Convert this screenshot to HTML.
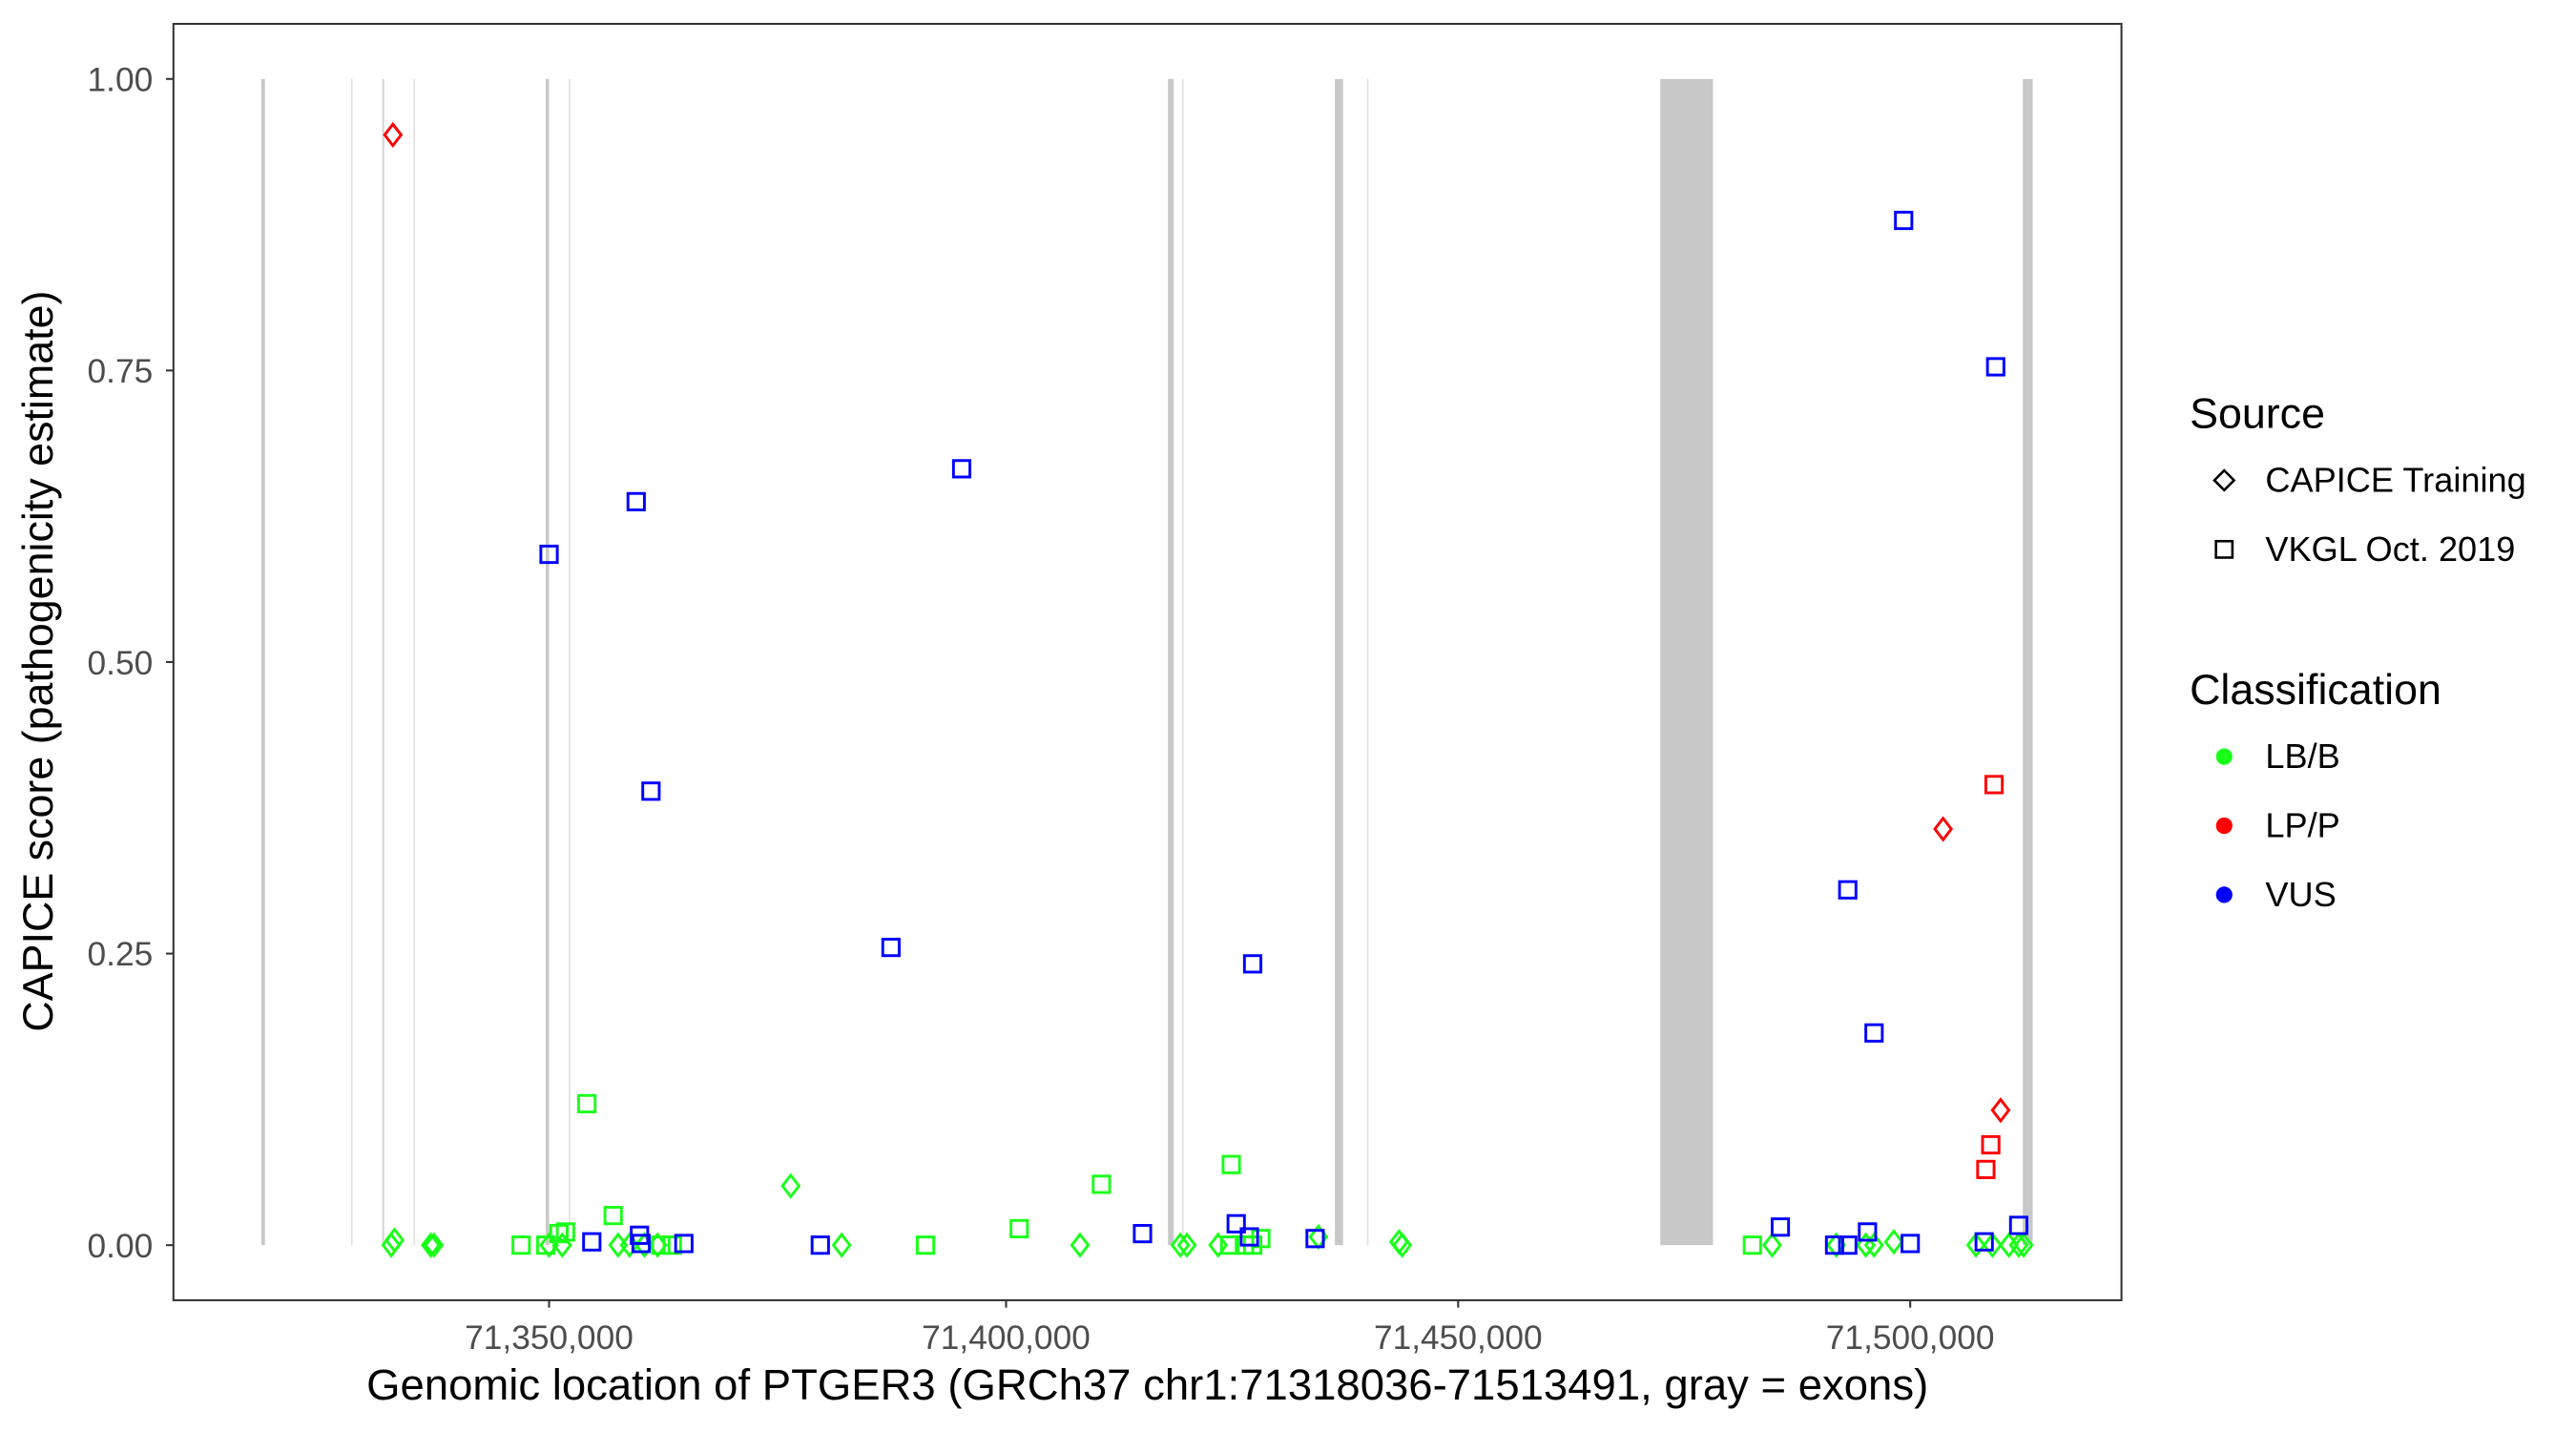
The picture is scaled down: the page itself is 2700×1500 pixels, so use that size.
<!DOCTYPE html>
<html><head><meta charset="utf-8"><style>html,body{margin:0;padding:0;background:#fff}svg{display:block}</style></head>
<body>
<svg width="2700" height="1500" viewBox="0 0 1567 870" preserveAspectRatio="none" xmlns="http://www.w3.org/2000/svg" font-family="Liberation Sans, Arial, sans-serif">
<rect x="0" y="0" width="1567" height="870" fill="#fff"/>
<g fill="#c8c8c8">
<rect x="159" y="48" width="2.2" height="709"/>
<rect x="213.5" y="48" width="1" height="709" fill="#e2e2e2"/>
<rect x="232.5" y="48" width="1.2" height="709" fill="#d4d4d4"/>
<rect x="251.5" y="48" width="1" height="709" fill="#e2e2e2"/>
<rect x="332" y="48" width="2" height="709"/>
<rect x="346" y="48" width="1" height="709" fill="#e2e2e2"/>
<rect x="710.5" y="48" width="3.5" height="709"/>
<rect x="719" y="48" width="1" height="709" fill="#e2e2e2"/>
<rect x="812" y="48" width="5" height="709"/>
<rect x="831.5" y="48" width="1" height="709" fill="#e2e2e2"/>
<rect x="1010" y="48" width="32" height="709"/>
<rect x="1230.5" y="48" width="6" height="709"/>
</g>
<defs>
<path id="d" d="M0,-6.5 L5,0 L0,6.5 L-5,0 Z" fill="none" stroke-width="1.7"/>
<rect id="s" x="-5" y="-5" width="10" height="10" fill="none" stroke-width="1.7"/>
</defs>
<g stroke="#1aff1a">
<use href="#s" x="357" y="671"/><use href="#s" x="373" y="739"/><use href="#s" x="749" y="708"/><use href="#s" x="670" y="720"/><use href="#s" x="620" y="747"/><use href="#s" x="563" y="757"/><use href="#s" x="317" y="757"/><use href="#s" x="340" y="750"/><use href="#s" x="344" y="749"/><use href="#s" x="332" y="757"/><use href="#s" x="1066" y="757"/><use href="#s" x="767" y="753"/><use href="#s" x="757" y="757"/><use href="#s" x="748" y="757"/><use href="#s" x="409" y="757"/><use href="#s" x="402" y="757"/><use href="#s" x="762" y="757"/>
</g>
<g stroke="#1aff1a">
<use href="#d" x="238" y="757"/><use href="#d" x="240" y="754"/><use href="#d" x="262" y="757"/><use href="#d" x="264" y="757"/><use href="#d" x="481" y="721"/><use href="#d" x="512" y="757"/><use href="#d" x="657" y="757"/><use href="#d" x="718" y="757"/><use href="#d" x="722" y="757"/><use href="#d" x="741" y="757"/><use href="#d" x="802" y="752"/><use href="#d" x="851" y="755"/><use href="#d" x="853" y="757"/><use href="#d" x="376" y="757"/><use href="#d" x="383" y="757"/><use href="#d" x="392" y="757"/><use href="#d" x="400" y="757"/><use href="#d" x="1078" y="757"/><use href="#d" x="1117" y="757"/><use href="#d" x="1135" y="757"/><use href="#d" x="1140" y="757"/><use href="#d" x="1152" y="755"/><use href="#d" x="1202" y="757"/><use href="#d" x="1212" y="757"/><use href="#d" x="1222" y="757"/><use href="#d" x="1228" y="757"/><use href="#d" x="1231" y="757"/><use href="#d" x="334" y="757"/><use href="#d" x="342" y="757"/>
</g>
<g stroke="#0000ff">
<use href="#s" x="334" y="337"/><use href="#s" x="387" y="305"/><use href="#s" x="585" y="285"/><use href="#s" x="396" y="481"/><use href="#s" x="542" y="576"/><use href="#s" x="762" y="586"/><use href="#s" x="1158" y="134"/><use href="#s" x="1214" y="223"/><use href="#s" x="1124" y="541"/><use href="#s" x="1140" y="628"/><use href="#s" x="1083" y="746"/><use href="#s" x="1228" y="745"/><use href="#s" x="752" y="744"/><use href="#s" x="695" y="750"/><use href="#s" x="360" y="755"/><use href="#s" x="389" y="751"/><use href="#s" x="390" y="756"/><use href="#s" x="499" y="757"/><use href="#s" x="800" y="753"/><use href="#s" x="760" y="752"/><use href="#s" x="1116" y="757"/><use href="#s" x="1124" y="757"/><use href="#s" x="1136" y="749"/><use href="#s" x="1162" y="756"/><use href="#s" x="1207" y="755"/><use href="#s" x="416" y="756"/>
</g>
<g stroke="#ff0000">
<use href="#s" x="1213" y="477"/><use href="#s" x="1211" y="696"/><use href="#s" x="1208" y="711"/>
<use href="#d" x="239" y="82"/><use href="#d" x="1182" y="504"/><use href="#d" x="1217" y="675"/>
</g>
<rect x="105.5" y="14.5" width="1185" height="776" fill="none" stroke="#333" stroke-width="1.2"/>
<g stroke="#333" stroke-width="1.2">
<line x1="101" x2="105.5" y1="48" y2="48"/><line x1="101" x2="105.5" y1="225.25" y2="225.25"/><line x1="101" x2="105.5" y1="402.5" y2="402.5"/><line x1="101" x2="105.5" y1="579.75" y2="579.75"/><line x1="101" x2="105.5" y1="757" y2="757"/>
<line x1="334" x2="334" y1="790.5" y2="795"/><line x1="612" x2="612" y1="790.5" y2="795"/><line x1="887" x2="887" y1="790.5" y2="795"/><line x1="1162" x2="1162" y1="790.5" y2="795"/>
</g>
<g fill="#4d4d4d" font-size="20.5" text-anchor="end">
<text x="93" y="55.5">1.00</text><text x="93" y="232.5">0.75</text><text x="93" y="410">0.50</text><text x="93" y="587">0.25</text><text x="93" y="764.5">0.00</text>
</g>
<g fill="#4d4d4d" font-size="20.5" text-anchor="middle">
<text x="334" y="820">71,350,000</text><text x="612" y="820">71,400,000</text><text x="887" y="820">71,450,000</text><text x="1162" y="820">71,500,000</text>
</g>
<text x="698" y="851" font-size="26.4" text-anchor="middle" fill="#000">Genomic location of PTGER3 (GRCh37 chr1:71318036-71513491, gray = exons)</text>
<text transform="translate(32,402) rotate(-90)" font-size="26" text-anchor="middle" fill="#000">CAPICE score (pathogenicity estimate)</text>
<text x="1332" y="260" font-size="26">Source</text>
<path d="M1353,286 L1359,292 L1353,298 L1347,292 Z" fill="none" stroke="#000" stroke-width="1.5"/>
<text x="1378" y="299" font-size="21">CAPICE Training</text>
<rect x="1348" y="329" width="10" height="10" fill="none" stroke="#000" stroke-width="1.5"/>
<text x="1378" y="341" font-size="21">VKGL Oct. 2019</text>
<text x="1332" y="428" font-size="26">Classification</text>
<circle cx="1353" cy="460" r="5" fill="#1aff1a"/><text x="1378" y="467" font-size="21">LB/B</text>
<circle cx="1353" cy="502" r="5" fill="#ff0000"/><text x="1378" y="509" font-size="21">LP/P</text>
<circle cx="1353" cy="544" r="5" fill="#0000ff"/><text x="1378" y="551" font-size="21">VUS</text>
</svg>
</body></html>
